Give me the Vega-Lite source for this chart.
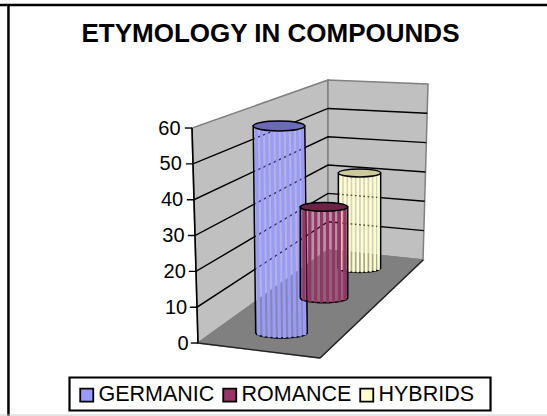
{
"$schema":"https://vega.github.io/schema/vega-lite/v6.json",
"width":547,"height":416,"autosize":"none","padding":0,"background":"white",
"title":{"text":"ETYMOLOGY IN COMPOUNDS","font":"Liberation Sans","fontSize":26,"fontWeight":"bold","color":"#000","anchor":"middle","dx":-3,"baseline":"alphabetic","offset":-68},
"config":{"view":{"stroke":null}},
"encoding":{
 "x":{"field":"X","type":"quantitative","stack":null,"scale":{"domain":[-55.26,97.4],"nice":false,"zero":false},"axis":null},
 "y":{"field":"Y","type":"quantitative","stack":null,"scale":{"domain":[-20.37,95.73],"nice":false,"zero":false},
  "axis":{"title":null,"values":[0,10,20,30,40,50,60],"domain":false,"ticks":false,"grid":false,"labelFont":"Liberation Sans","labelFontSize":20,"labelColor":"#000","labelPadding":{"expr":"datum.value*0.133"},"offset":-188,"zindex":1}}
},
"layer":[
 {"data":{"values":[{"panel":"left"},{"panel":"right"},{"panel":"floor"}]},
  "transform":[
   {"calculate":"datum.panel==='left'?[[0,0,0],[25.96,-0.72,36.28],[60,-1.67,36.28],[73.4,36.28,36.28]]:datum.panel==='right'?[[23.17,62.8,62.8],[25.96,36.28,62.88],[72.29,36.28,64.19],[73.4,36.28,36.28]]:[[-4.19,34.05,34.05],[0,0,38.45],[23.17,32.38,62.8],[25.96,36.28,36.28]]","as":"pts"},
   {"flatten":["pts"]},
   {"calculate":"datum.pts[0]","as":"Y"},{"calculate":"datum.pts[1]","as":"X"},{"calculate":"datum.pts[2]","as":"X2"},
   {"calculate":"datum.panel==='floor'?'#808080':'#c0c0c0'","as":"col"}
  ],
  "mark":{"type":"area","orient":"horizontal","stroke":"#808080","strokeWidth":1.5},
  "encoding":{"x2":{"field":"X2"},"detail":{"field":"panel"},"fill":{"field":"col","type":"nominal","scale":null}}},
 {"data":{"values":[{"value":0},{"value":10},{"value":20},{"value":30},{"value":40},{"value":50},{"value":60}]},
  "transform":[
   {"calculate":"[0,1,2,3]","as":"stop"},{"flatten":["stop"]},
   {"filter":"datum.stop<2||(datum.value>0&&datum.value<60)"},
   {"calculate":"[datum.value*-0.0279-2,datum.value*-0.0279,36.28,62.8+0.0233*datum.value][datum.stop]","as":"X"},
   {"calculate":"[datum.value,datum.value,25.96+0.79*datum.value,23.17+0.819*datum.value][datum.stop]","as":"Y"}
  ],
  "mark":{"type":"line","color":"#000","strokeWidth":1.4},
  "encoding":{"detail":{"field":"value"},"order":{"field":"stop"}}},
 {"data":{"values":[{"value":0},{"value":60}]},
  "transform":[{"calculate":"datum.value*-0.0279","as":"X"},{"calculate":"datum.value","as":"Y"}],
  "mark":{"type":"line","color":"#000","strokeWidth":1.6},"encoding":{"order":{"field":"value"}}},
 {"data":{"values":[{"edge":"front"},{"edge":"side"}]},
  "transform":[{"calculate":"datum.edge==='front'?0:34.05","as":"X"},{"calculate":"datum.edge==='front'?0:-4.19","as":"Y"},{"calculate":"datum.edge==='front'?34.05:62.8","as":"X2"},{"calculate":"datum.edge==='front'?-4.19:23.17","as":"Y2"}],
  "mark":{"type":"rule","color":"#222","strokeWidth":1.4},
  "encoding":{"x2":{"field":"X2"},"y2":{"field":"Y2"}}},
 {"data":{"values":[{"frame":"top"},{"frame":"left"},{"frame":"bottom"}]},
  "transform":[
   {"calculate":"datum.frame==='left'?-52.9:-55.26","as":"X"},{"calculate":"datum.frame==='left'?-52.9:97.4","as":"X2"},
   {"calculate":"datum.frame==='top'?94.33:datum.frame==='bottom'?-20.1:-20.37","as":"Y"},{"calculate":"datum.frame==='bottom'?-20.1:94.33","as":"Y2"},
   {"calculate":"datum.frame==='bottom'?'#cccccc':'#000000'","as":"col"},
   {"calculate":"datum.frame==='bottom'?1:2.5","as":"w"}
  ],
  "mark":{"type":"rule"},
  "encoding":{"x2":{"field":"X2"},"y2":{"field":"Y2"},"color":{"field":"col","type":"nominal","scale":null},"strokeWidth":{"field":"w","type":"quantitative","scale":null}}},
 {"data":{"values":[{"box":"legend"}]},
  "transform":[{"calculate":"-35.86","as":"X"},{"calculate":"81.64","as":"X2"},{"calculate":"-9.63","as":"Y"},{"calculate":"-18.84","as":"Y2"}],
  "mark":{"type":"rect","fill":"#fff","stroke":"#000","strokeWidth":2.2},
  "encoding":{"x2":{"field":"X2"},"y2":{"field":"Y2"}}},
 {"data":{"values":[{"series":"GERMANIC","value":60},{"series":"ROMANCE","value":29},{"series":"HYBRIDS","value":32}]},
  "transform":[
   {"calculate":"indexof(['GERMANIC','ROMANCE','HYBRIDS'],datum.series)","as":"i"},
   {"calculate":"[23.3,35.16,45.07][datum.i]","as":"X0"},
   {"calculate":"[2.79,12.56,20.9][datum.i]","as":"Y0"},
   {"calculate":"[22.6,35.16,45.07][datum.i]","as":"Xt"},
   {"calculate":"datum.Y0+[0.963,0.877,0.83][datum.i]*datum.value","as":"Yt"},
   {"calculate":"[7.2,6.6,5.9][datum.i]","as":"hw"},
   {"calculate":"[1.4,1.3,1.2][datum.i]","as":"ry"},
   {"calculate":"['#9999ff','#993366','#ffffcc'][datum.i]","as":"stripe"},
   {"calculate":"['#6a6ab8','#6b2347','#caca9c'][datum.i]","as":"cap"}
  ],
  "layer":[
   {"transform":[{"filter":"datum.series==='HYBRIDS'"},{"calculate":"[-1,1,0.95,0.8,0.6,0.4,0.2,0]","as":"s"},{"flatten":["s"]},
     {"calculate":"datum.s<0?datum.Yt:datum.Y0-datum.ry*sqrt(1-datum.s*datum.s)","as":"Y"},
     {"calculate":"datum.s<0?datum.Xt-datum.hw:datum.X0-datum.hw*datum.s","as":"X"},
     {"calculate":"datum.s<0?datum.Xt+datum.hw:datum.X0+datum.hw*datum.s","as":"X2"}],
    "mark":{"type":"area","orient":"horizontal","stroke":"#000","strokeWidth":1.5,"fillOpacity":0.3},
    "encoding":{"x2":{"field":"X2"},"color":{"field":"series","type":"nominal","scale":{"domain":["GERMANIC","ROMANCE","HYBRIDS"],"range":["#9999ff","#993366","#ffffcc"]},
      "legend":{"title":null,"orient":"none","legendX":69,"legendY":377,"direction":"horizontal","padding":7,"symbolType":"square","symbolSize":170,"symbolStrokeColor":"#000","symbolStrokeWidth":1.8,"symbolOpacity":1,"labelFont":"Liberation Sans","labelFontSize":21.5,"labelColor":"#000","columnPadding":4,"labelOffset":1}}}},
   {"transform":[{"filter":"datum.series==='HYBRIDS'"},{"calculate":"[-0.88,-0.68,-0.48,-0.28,-0.08,0.12,0.32,0.52,0.72,0.9]","as":"t"},{"flatten":["t"]},
     {"calculate":"datum.Xt+datum.hw*datum.t","as":"X"},{"calculate":"datum.X0+datum.hw*datum.t","as":"X2"},{"calculate":"datum.Yt","as":"Y"},{"calculate":"datum.Y0-datum.ry*sqrt(1-datum.t*datum.t)","as":"Y2"}],
    "mark":{"type":"rule","strokeWidth":2.5},
    "encoding":{"x2":{"field":"X2"},"y2":{"field":"Y2"},"color":{"field":"stripe","type":"nominal","scale":null}}},
   {"transform":[{"filter":"datum.series==='HYBRIDS'"},{"calculate":"datum.Xt","as":"X"},{"calculate":"datum.Yt","as":"Y"},{"calculate":"pow(2*datum.hw*3.583,2)","as":"sz"}],
    "mark":{"type":"point","filled":true,"opacity":1,"stroke":"#000","strokeWidth":1.5,"shape":"M-1,0A1,0.19,0,1,1,1,0A1,0.19,0,1,1,-1,0Z"},
    "encoding":{"size":{"field":"sz","type":"quantitative","scale":null},"fill":{"field":"cap","type":"nominal","scale":null}}},

   {"transform":[{"filter":"datum.series==='GERMANIC'"},{"calculate":"[-1,1,0.95,0.8,0.6,0.4,0.2,0]","as":"s"},{"flatten":["s"]},
     {"calculate":"datum.s<0?datum.Yt:datum.Y0-datum.ry*sqrt(1-datum.s*datum.s)","as":"Y"},
     {"calculate":"datum.s<0?datum.Xt-datum.hw:datum.X0-datum.hw*datum.s","as":"X"},
     {"calculate":"datum.s<0?datum.Xt+datum.hw:datum.X0+datum.hw*datum.s","as":"X2"}],
    "mark":{"type":"area","orient":"horizontal","stroke":"#000","strokeWidth":1.5,"fillOpacity":0.3},
    "encoding":{"x2":{"field":"X2"},"color":{"field":"series","type":"nominal"}}},
   {"transform":[{"filter":"datum.series==='GERMANIC'"},{"calculate":"[-0.88,-0.68,-0.48,-0.28,-0.08,0.12,0.32,0.52,0.72,0.9]","as":"t"},{"flatten":["t"]},
     {"calculate":"datum.Xt+datum.hw*datum.t","as":"X"},{"calculate":"datum.X0+datum.hw*datum.t","as":"X2"},{"calculate":"datum.Yt","as":"Y"},{"calculate":"datum.Y0-datum.ry*sqrt(1-datum.t*datum.t)","as":"Y2"}],
    "mark":{"type":"rule","strokeWidth":3.2},
    "encoding":{"x2":{"field":"X2"},"y2":{"field":"Y2"},"color":{"field":"stripe","type":"nominal","scale":null}}},
   {"transform":[{"filter":"datum.series==='GERMANIC'"},{"calculate":"datum.Xt","as":"X"},{"calculate":"datum.Yt","as":"Y"},{"calculate":"pow(2*datum.hw*3.583,2)","as":"sz"}],
    "mark":{"type":"point","filled":true,"opacity":1,"stroke":"#000","strokeWidth":1.5,"shape":"M-1,0A1,0.19,0,1,1,1,0A1,0.19,0,1,1,-1,0Z"},
    "encoding":{"size":{"field":"sz","type":"quantitative","scale":null},"fill":{"field":"cap","type":"nominal","scale":null}}},

   {"transform":[{"filter":"datum.series==='ROMANCE'"},{"calculate":"[-1,1,0.95,0.8,0.6,0.4,0.2,0]","as":"s"},{"flatten":["s"]},
     {"calculate":"datum.s<0?datum.Yt:datum.Y0-datum.ry*sqrt(1-datum.s*datum.s)","as":"Y"},
     {"calculate":"datum.s<0?datum.Xt-datum.hw:datum.X0-datum.hw*datum.s","as":"X"},
     {"calculate":"datum.s<0?datum.Xt+datum.hw:datum.X0+datum.hw*datum.s","as":"X2"}],
    "mark":{"type":"area","orient":"horizontal","stroke":"#000","strokeWidth":1.7,"fillOpacity":0.3},
    "encoding":{"x2":{"field":"X2"},"color":{"field":"series","type":"nominal"}}},
   {"transform":[{"filter":"datum.series==='ROMANCE'"},{"calculate":"[-0.85,-0.6,-0.35,-0.1,0.15,0.4,0.65,0.88]","as":"t"},{"flatten":["t"]},
     {"calculate":"datum.Xt+datum.hw*datum.t","as":"X"},{"calculate":"datum.X0+datum.hw*datum.t","as":"X2"},{"calculate":"datum.Yt","as":"Y"},{"calculate":"datum.Y0-datum.ry*sqrt(1-datum.t*datum.t)","as":"Y2"}],
    "mark":{"type":"rule","strokeWidth":3.2},
    "encoding":{"x2":{"field":"X2"},"y2":{"field":"Y2"},"color":{"field":"stripe","type":"nominal","scale":null}}},
   {"transform":[{"filter":"datum.series==='ROMANCE'"},{"calculate":"datum.Xt","as":"X"},{"calculate":"datum.Yt","as":"Y"},{"calculate":"pow(2*datum.hw*3.583,2)","as":"sz"}],
    "mark":{"type":"point","filled":true,"opacity":1,"stroke":"#000","strokeWidth":1.5,"shape":"M-1,0A1,0.19,0,1,1,1,0A1,0.19,0,1,1,-1,0Z"},
    "encoding":{"size":{"field":"sz","type":"quantitative","scale":null},"fill":{"field":"cap","type":"nominal","scale":null}}}
  ]}
]
}
